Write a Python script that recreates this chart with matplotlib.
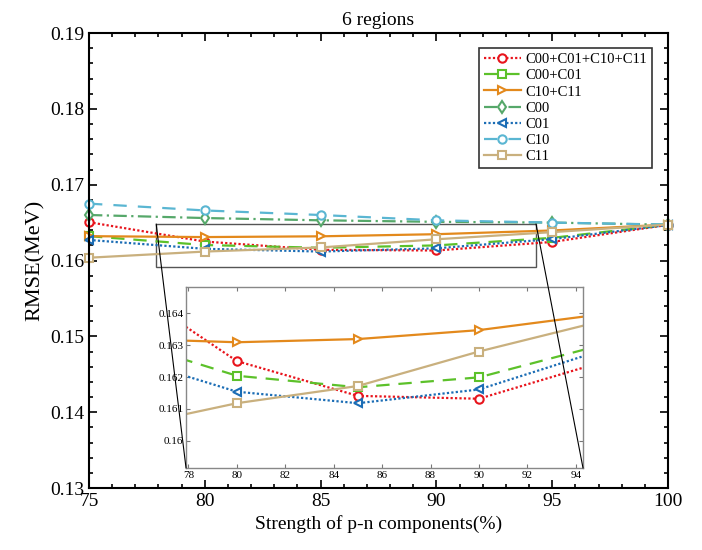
import numpy as np
import matplotlib.pyplot as plt
from matplotlib.patches import Rectangle, ConnectionPatch

plt.rcParams['font.family'] = ['Liberation Serif', 'DejaVu Serif']
plt.rcParams['mathtext.fontset'] = 'stix'

# dados
x = [75, 80, 85, 90, 95, 100]
c_all = [0.16505, 0.16250, 0.16141, 0.16132, 0.16245, 0.16470]
c00_c01 = [0.16321, 0.16204, 0.16168, 0.16199, 0.16299, 0.16472]
c10_c11 = [0.16321, 0.16309, 0.16319, 0.16347, 0.16396, 0.16474]
c00 = [0.16600, 0.16560, 0.16530, 0.16510, 0.16500, 0.16472]
c01 = [0.16271, 0.16154, 0.16118, 0.16161, 0.16282, 0.16468]
c10 = [0.16750, 0.16660, 0.16600, 0.16530, 0.16500, 0.16474]
c11 = [0.16037, 0.16118, 0.16172, 0.16280, 0.16374, 0.16474]

labels = ['C00+C01+C10+C11', 'C00+C01', 'C10+C11', 'C00', 'C01', 'C10', 'C11']
series = [c_all, c00_c01, c10_c11, c00, c01, c10, c11]
colors = ['#e8141c', '#5cc12a', '#e3891c', '#56a86a', '#1b6db5', '#5ab6d2', '#c9b07e']
styles = [(0, (1, 1)), (0, (6, 4)), '-', (0, (6, 2, 1, 2)), (0, (1, 1)), (0, (6, 5)), '-']
markers = ['o', 's', '>', 'd', '<', 'o', 's']

yticks = [0.13, 0.14, 0.15, 0.16, 0.17, 0.18, 0.19]
ytick_labels = ['0.13', '0.14', '0.15', '0.16', '0.17', '0.18', '0.19']
xticks = [75, 80, 85, 90, 95, 100]

zoom_x = (77.9, 94.3)
zoom_y = (0.15915, 0.16482)
in_xticks = [78, 80, 82, 84, 86, 88, 90, 92, 94]
in_yticks = [0.160, 0.161, 0.162, 0.163, 0.164]
in_ytick_labels = ['0.16', '0.161', '0.162', '0.163', '0.164']

fig = plt.figure(figsize=(7.02, 5.5), dpi=100)
ax = fig.add_axes([0.1268, 0.1127, 0.8248, 0.8273])

for y, lab, c, ls, m in zip(series, labels, colors, styles, markers):
    ax.plot(x, y, color=c, linestyle=ls, marker=m, markersize=6, clip_on=False,
            markerfacecolor='white', markeredgewidth=1.5, linewidth=1.6, label=lab)

ax.set_xlim(75, 100)
ax.set_ylim(0.13, 0.19)
ax.set_xticks(xticks)
ax.set_yticks(yticks)
ax.set_yticklabels(ytick_labels)
ax.set_xticks(np.arange(75, 101, 1), minor=True)
ax.set_yticks(np.arange(0.13, 0.1901, 0.002), minor=True)
ax.tick_params(which='both', direction='in', top=True, right=True, labelsize=14, width=1.2)
ax.tick_params(which='major', length=6)
ax.tick_params(which='minor', length=3)
for s in ax.spines.values():
    s.set_linewidth(1.5)
ax.set_title('6 regions', fontsize=14)
ax.set_xlabel('Strength of p-n components(%)', fontsize=14)
ax.set_ylabel('RMSE(MeV)', fontsize=16)

leg = ax.legend(loc='upper right', fontsize=10.5, frameon=True, fancybox=False,
                edgecolor='black', handlelength=2.5, labelspacing=0.2,
                borderpad=0.35, handletextpad=0.3, borderaxespad=0,
                bbox_to_anchor=(0.972, 0.967))
leg.get_frame().set_linewidth(1.2)

# retângulo da região ampliada
ax.add_patch(Rectangle((zoom_x[0], zoom_y[0]), zoom_x[1] - zoom_x[0], zoom_y[1] - zoom_y[0],
                       fill=False, edgecolor='#555555', linewidth=1.0))

# eixo do zoom
axin = fig.add_axes([0.265, 0.1491, 0.5655, 0.329])
for y, c, ls, m in zip(series, colors, styles, markers):
    axin.plot(x, y, color=c, linestyle=ls, marker=m, markersize=6,
              markerfacecolor='white', markeredgewidth=1.5, linewidth=1.6)
axin.set_xlim(*zoom_x)
axin.set_ylim(*zoom_y)
axin.set_xticks(in_xticks)
axin.set_yticks(in_yticks)
axin.set_yticklabels(in_ytick_labels)
axin.tick_params(direction='in', top=True, right=True, labelsize=8, length=3,
                 color='#777777', pad=2)
for s in axin.spines.values():
    s.set_color('#888888')
    s.set_linewidth(1.0)

# linhas ligando o retângulo ao zoom
for xa, xb in [(zoom_x[0], 0), (zoom_x[1], 1)]:
    con = ConnectionPatch(xyA=(xa, zoom_y[1]), coordsA=ax.transData,
                          xyB=(xb, 0), coordsB=axin.transAxes,
                          color='black', linewidth=0.8)
    fig.add_artist(con)

plt.savefig('out.png', dpi=100)
